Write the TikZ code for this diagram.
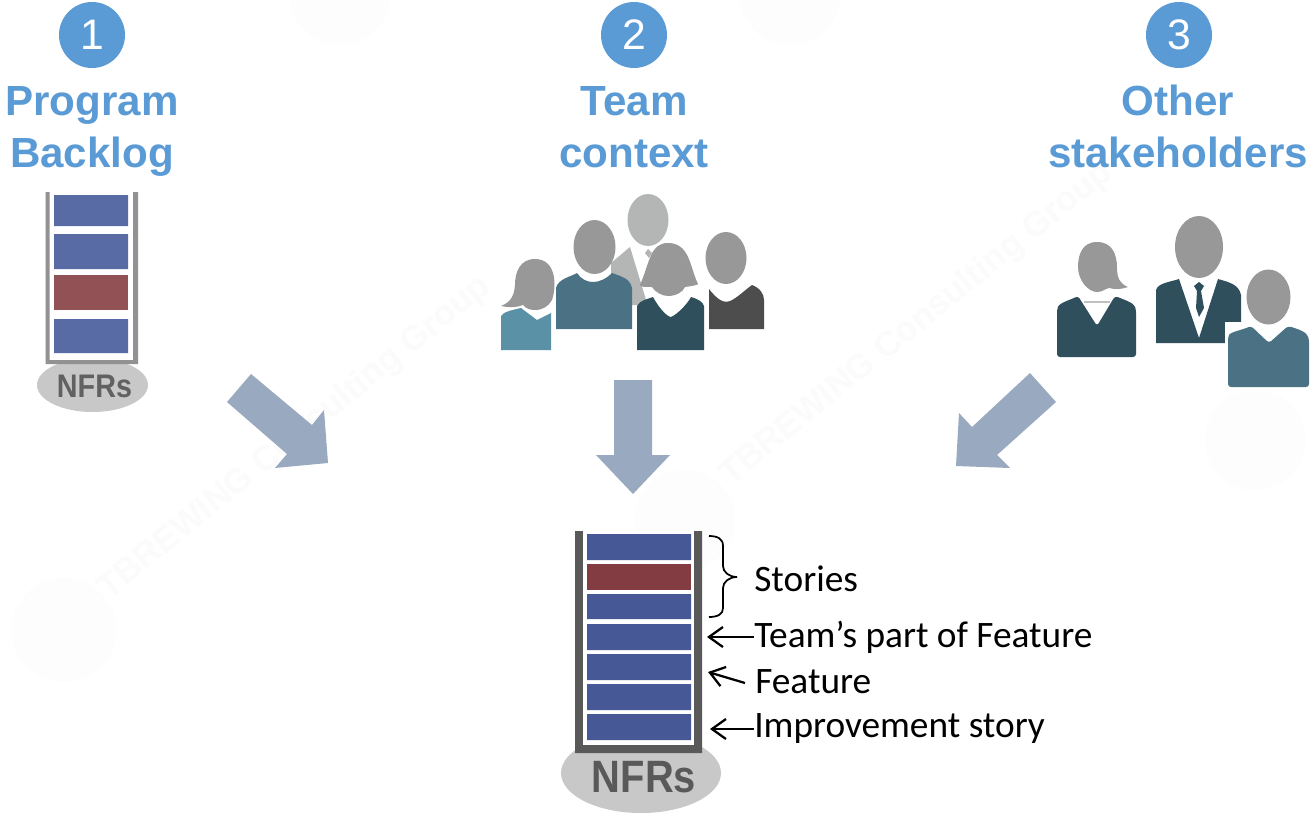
\documentclass[tikz,border=0pt]{standalone}
\usepackage{fontspec}
\setmainfont{Liberation Sans}
\newfontfamily\labelfont{Carlito}
\usetikzlibrary{arrows.meta}
\definecolor{titleblue}{HTML}{5B9BD5}
\definecolor{arrowblue}{HTML}{99A9BF}
\definecolor{barblue}{HTML}{475896}
\definecolor{barred}{HTML}{833C42}
\definecolor{barbluel}{HTML}{586BA5}
\definecolor{barredl}{HTML}{925155}
\definecolor{wallgrey}{HTML}{595959}
\definecolor{walllight}{HTML}{929292}
\definecolor{ovalgrey}{HTML}{C8C8C8}
\definecolor{headgrey}{HTML}{989898}
\definecolor{headlight}{HTML}{B4B6B5}
\definecolor{teal1}{HTML}{5A91A6}
\definecolor{teal2}{HTML}{4A7284}
\definecolor{teal3}{HTML}{304F5C}
\definecolor{darkg}{HTML}{4D4D4D}
\definecolor{wm}{HTML}{FBFBFB}
\definecolor{wmc}{HTML}{FDFDFD}
\tikzset{
  numcircle/.style={circle,fill=titleblue,minimum size=49.5pt,inner sep=0,text=white,font=\fontsize{32}{32}\selectfont},
  titletext/.style={text=titleblue,align=center,font=\fontsize{31.6}{39}\selectfont\bfseries},
  blockarrow/.style={fill=arrowblue,draw=none},
  lbl/.style={anchor=west,inner sep=0,font=\labelfont\fontsize{28}{28}\selectfont},
  pointer/.style={draw=black,line width=1.7pt,{Straight Barb[length=10.5pt,width=15pt,line width=1.7pt]}-},
  watermark/.style={text=wm,font=\fontsize{26}{26}\selectfont\bfseries,rotate=39}
}
\begin{document}
\begin{tikzpicture}[x=0.75pt,y=-0.75pt]
\useasboundingbox (0,0) rectangle (1313,814);
\fill[white] (0,0) rectangle (1313,814);
% watermark
\node[watermark] (wma) at (295,438) {TBREWING Consulting Group};
\node[watermark] (wmb) at (917,324) {TBREWING Consulting Group};
\begin{scope}
\clip (0,0) rectangle (1313,814);
\fill[wmc] (64,630) circle[radius=52pt*0.75];
\fill[wmc] (1255,440) circle[radius=50pt*0.75];
\fill[wmc] (340,-5) circle[radius=50pt*0.75];
\fill[wmc] (790,-5) circle[radius=50pt*0.75];
\fill[wmc] (685,520) circle[radius=50pt*0.75];
\end{scope}
% circles and titles
\node[numcircle] (c1) at (92,35) {1};
\node[numcircle] (c2) at (634,35) {2};
\node[numcircle] (c3) at (1179,35) {3};
\node[titletext] (t1) at (92,131) {Program\\Backlog};
\node[titletext] (t2) at (634,127) {Team\\context};
\node[titletext] (t3) at (1178,126) {Other\\stakeholders};
% small stack
\fill[ovalgrey] (92.5,385) ellipse[x radius=55.5,y radius=27];
\fill[walllight] (45.5,192) rectangle (49.5,364) (133,192) rectangle (138,364) (45.5,360) rectangle (138,364);
\fill[white] (49.5,192) rectangle (133,360);
\fill[barbluel] (54,195) rectangle (128,226) (54,234) rectangle (128,269) (54,319) rectangle (128,353);
\fill[barredl] (54,275) rectangle (128,310);
\node[text=wallgrey!95!white,font=\fontsize{24.5}{24.5}\selectfont\bfseries,xscale=.88] (nfr1) at (94.5,386) {NFRs};
% big stack
\fill[ovalgrey] (641,773) ellipse[x radius=80,y radius=40];
\fill[wallgrey] (575,531) rectangle (583,753) (694,531) rectangle (702,753) (575,745) rectangle (702,753);
\fill[white] (583,531) rectangle (694,745);
\fill[barblue] (587,534) rectangle (691,560) (587,594) rectangle (691,619) (587,624) rectangle (691,650)
  (587,654) rectangle (691,680) (587,684) rectangle (691,710) (587,714) rectangle (691,740);
\fill[barred] (587,564) rectangle (691,590);
\node[text=wallgrey,font=\fontsize{34}{34}\selectfont\bfseries,xscale=.88] (nfr2) at (644,777) {NFRs};
% block arrows
\fill[blockarrow] (251,374) -- (227,402) -- (287,454) -- (275,468) -- (328,463) -- (324,410) -- (312,425) -- cycle;
\fill[blockarrow] (614,380) -- (652,380) -- (652,455) -- (670,455) -- (633,494) -- (596,455) -- (614,455) -- cycle;
\fill[blockarrow] (1030,373) -- (1056,402) -- (997,455) -- (1010,468) -- (956,466) -- (959,413) -- (972,427) -- cycle;
% labels
\node[lbl] (stories) at (754,579) {Stories};
\node[lbl] (teampart) at (754,637) {Team’s part of Feature};
\node[lbl] (feature) at (755,682) {Feature};
\node[lbl] (improve) at (754,729) {Improvement story};
\coordinate (ta) at (707,637);
\coordinate (tb) at (708,672);
\coordinate (tc) at (710,729);
\coordinate (fe) at (745,683);
\draw[pointer] (ta) -- (teampart.west);
\draw[pointer] (tb) -- (fe);
\draw[pointer] (tc) -- (improve.west);
% brace
\draw[black,line width=1.3pt] (709,536) .. controls (718,536) and (723,539) .. (723,546) -- (723,566)
  .. controls (723,572) and (729,577) .. (737,577) .. controls (729,577) and (723,582) .. (723,588)
  -- (723,608) .. controls (723,614) and (718,617) .. (709,617);
% team people
\fill[headlight] (648,220) ellipse[x radius=20.5,y radius=26];
\fill[headlight] (611,263) -- (630,247) -- (647,303) -- (646,305) -- (611,305) -- cycle;
\fill[headlight] (648,249) -- (652,253) -- (649,258) -- (645,253) -- cycle;
% left woman
\fill[teal1] (501,350) -- (501,316) .. controls (503,312) and (512,310) .. (521,308) -- (537,320) -- (551,313) -- (551,350) -- cycle;
\fill[headgrey] (535,259) .. controls (520,259) and (515,272) .. (515,285) .. controls (514,296) and (511,302) .. (501,306)
  .. controls (510,308) and (518,307) .. (523,305) .. controls (528,312) and (545,313) .. (552,300) .. controls (557,285) and (556,259) .. (535,259) -- cycle;
% left man
\fill[teal2] (556,329) -- (556,288) .. controls (558,279) and (570,277) .. (577,273) .. controls (585,285) and (600,285) .. (612,273) .. controls (620,276) and (630,278) .. (632,288) -- (632,329) -- cycle;
\fill[headgrey] (594.5,247) ellipse[x radius=21,y radius=27];
% right man
\fill[darkg] (709,329) -- (709,289) .. controls (716,298) and (723,304) .. (730,301) .. controls (737,298) and (745,290) .. (752,285) .. controls (760,288) and (764,294) .. (764,300) -- (764,329) -- cycle;
\fill[headgrey] (726,258) ellipse[x radius=20.5,y radius=26];
% middle woman
\fill[teal3] (637,350) -- (637,306) .. controls (640,300) and (648,299) .. (653,297) .. controls (660,310) and (668,317) .. (671,317) .. controls (678,314) and (688,303) .. (691,297) .. controls (698,299) and (703,302) .. (704,306) -- (704,350) -- cycle;
\fill[headgrey] (668,243) .. controls (650,243) and (650,262) .. (640,285) .. controls (640,287) and (645,287) .. (652,287)
  .. controls (655,292) and (662,296) .. (668,296) .. controls (676,296) and (683,292) .. (685,287)
  .. controls (692,286) and (698,285) .. (698,284) .. controls (690,268) and (690,243) .. (668,243) -- cycle;
% stakeholders
\fill[teal3,rounded corners=2.2pt] (1057,357) -- (1057,310) .. controls (1059,303) and (1070,300) .. (1078,296) -- (1097,326) -- (1115,296) .. controls (1125,300) and (1134,303) .. (1136,310) -- (1136,357) -- cycle;
\draw[headgrey!60!white,line width=1pt] (1084,302) -- (1110,302);
\fill[headgrey] (1097,242) .. controls (1082,242) and (1078,255) .. (1078,267) .. controls (1078,280) and (1088,292) .. (1097,292)
  .. controls (1102,292) and (1105,289) .. (1109,288) .. controls (1116,290) and (1122,289) .. (1128,287) .. controls (1120,284) and (1117,278) .. (1117,268) .. controls (1117,254) and (1112,242) .. (1097,242) -- cycle;
\fill[teal3] (1156,343) -- (1156,290) .. controls (1158,283) and (1170,282) .. (1179,279) -- (1199,338) -- (1218,279) .. controls (1228,282) and (1239,284) .. (1241,295) -- (1241,343) -- cycle;
\fill[headgrey] (1199,247) ellipse[x radius=24,y radius=31];
\fill[teal3] (1199,282) -- (1204,286) -- (1201,291) -- (1204,308) -- (1199,317) -- (1196,308) -- (1197,291) -- (1194,286) -- cycle;
\fill[white] (1225,322) rectangle (1313,392);
\fill[teal2,rounded corners=2.2pt] (1228,387) -- (1228,338) .. controls (1230,332) and (1242,330) .. (1251,326) -- (1269,343) -- (1288,326) .. controls (1298,329) and (1307,332) .. (1309,340) -- (1309,387) -- cycle;
\fill[headgrey] (1268.5,297) ellipse[x radius=22,y radius=27.5];
\end{tikzpicture}
\end{document}
